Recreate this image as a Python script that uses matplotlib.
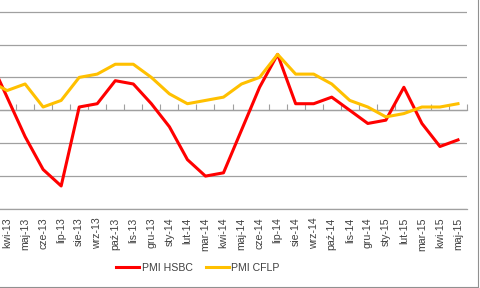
import numpy as np
import matplotlib
matplotlib.use("Agg")
import matplotlib.pyplot as plt

# miesiace (pierwszy punkt mar-13 wychodzi poza lewy brzeg obrazka)
months = ["mar-13", "kwi-13", "maj-13", "cze-13", "lip-13", "sie-13", "wrz-13",
          "paź-13", "lis-13", "gru-13", "sty-14", "lut-14", "mar-14", "kwi-14",
          "maj-14", "cze-14", "lip-14", "sie-14", "wrz-14", "paź-14", "lis-14",
          "gru-14", "sty-15", "lut-15", "mar-15", "kwi-15", "maj-15"]
pmi_hsbc = [51.6, 50.4, 49.2, 48.2, 47.7, 50.1, 50.2, 50.9, 50.8, 50.2, 49.5,
            48.5, 48.0, 48.1, 49.4, 50.7, 51.7, 50.2, 50.2, 50.4, 50.0, 49.6,
            49.7, 50.7, 49.6, 48.9, 49.1]
pmi_cflp = [50.9, 50.6, 50.8, 50.1, 50.3, 51.0, 51.1, 51.4, 51.4, 51.0, 50.5,
            50.2, 50.3, 50.4, 50.8, 51.0, 51.7, 51.1, 51.1, 50.8, 50.3, 50.1,
            49.8, 49.9, 50.1, 50.1, 50.2]

plt.rcParams['font.family'] = ['Liberation Sans', 'DejaVu Sans']
W, H = 480, 288
fig = plt.figure(figsize=(W / 100, H / 100), dpi=100)

ymin, ymax = 47, 54
left_px, right_px = -20, 467
bot_px = H - 209
top_px = bot_px + (ymax - ymin) * 32.9
ax = fig.add_axes([left_px / W, bot_px / H, (right_px - left_px) / W, (top_px - bot_px) / H])

x = np.arange(len(months))
ax.plot(x, pmi_hsbc, color="#FF0000", lw=2.2, label="PMI HSBC", zorder=3)
ax.plot(x, pmi_cflp, color="#FFC000", lw=2.2, label="PMI CFLP", zorder=3)

ax.set_xlim(-0.5, len(months) - 0.5)
ax.set_ylim(ymin, ymax)
ax.set_yticks(np.arange(ymin, ymax + 1, 1))
ax.yaxis.grid(True, color="#a0a0a0", lw=0.9)
ax.set_axisbelow(True)
ax.tick_params(axis="y", left=False, labelleft=False)
for s in ["left", "right", "top"]:
    ax.spines[s].set_visible(False)
ax.spines["bottom"].set_color("#a0a0a0")
ax.spines["bottom"].set_linewidth(0.9)

ax.set_xticks(x)
labels = ax.set_xticklabels(months, rotation=90, fontsize=7.6, color="#404040")
labels[0].set_visible(False)  # poza kadrem w oryginale
ax.tick_params(axis="x", length=0, pad=6)

# os przy 50 z kreskami miedzy kategoriami
sec = ax.secondary_xaxis((50 - ymin) / (ymax - ymin))
sec.set_xticks(x + 0.5)
sec.tick_params(axis="x", direction="in", length=4, color="#a0a0a0", labelbottom=False)
sec.spines["bottom"].set_color("#a0a0a0")
sec.spines["bottom"].set_linewidth(0.9)

fig.legend(loc="center", bbox_to_anchor=(198 / W, 1 - 268 / H), ncol=2, frameon=False,
           fontsize=7.6, handlelength=2.2, handletextpad=0.2, columnspacing=1.3,
           labelcolor="#404040")

# ramka wykresu (prawy i dolny brzeg)
fig.add_artist(plt.Line2D([478 / W, 478 / W], [1.5 / H, 1], color="#909090", lw=0.8))
fig.add_artist(plt.Line2D([0, 478 / W], [1.5 / H, 1.5 / H], color="#909090", lw=0.8))

fig.savefig("out.png", dpi=100)
